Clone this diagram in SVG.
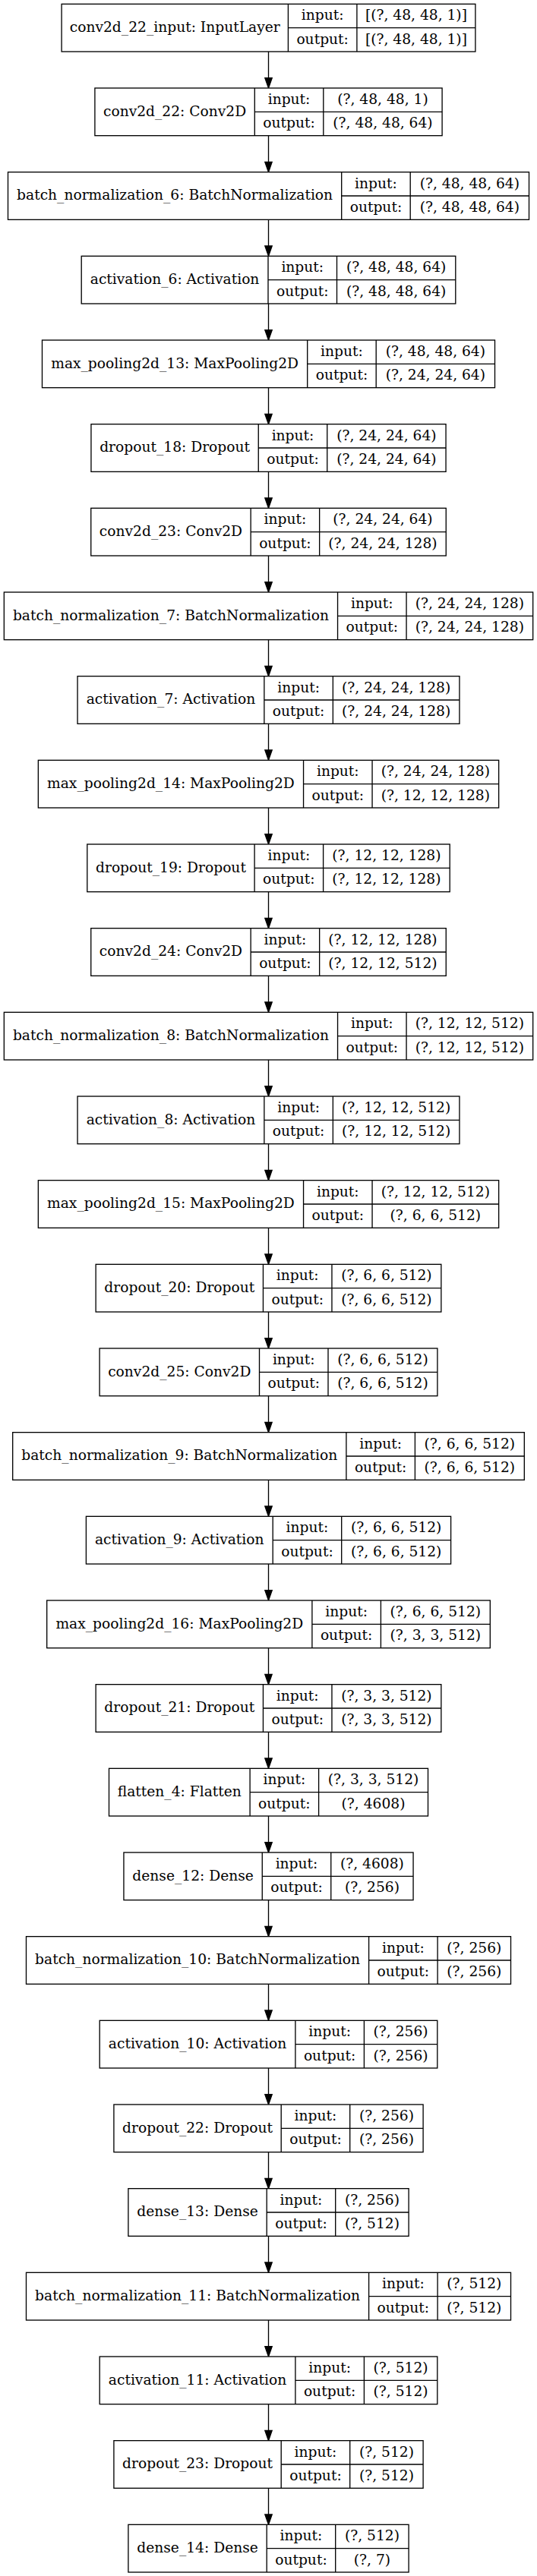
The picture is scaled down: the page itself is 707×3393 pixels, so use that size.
<svg xmlns="http://www.w3.org/2000/svg" width="707" height="3393" viewBox="0 0 707 3393">
<style>
.b{fill:#fff;stroke:#000;stroke-width:1.33}
.d{fill:none;stroke:#000;stroke-width:1.33}
text{font-family:"DejaVu Serif","Liberation Serif",serif;font-size:18.67px;fill:#000;text-anchor:middle}
.e{fill:none;stroke:#000;stroke-width:1.33;marker-end:url(#ah)}
</style>
<defs>
<marker id="ah" markerUnits="userSpaceOnUse" markerWidth="16" markerHeight="12" viewBox="0 -6 16 12" refX="0" refY="0" orient="auto" overflow="visible"><path d="M0,-4.67L13.33,0L0,4.67z" fill="#000" stroke="#000" stroke-width="1.33"/></marker>
</defs>
<rect width="707" height="3393" fill="#fff"/>
<g id="edges">
<path class="e" d="M353.5,68V102.67"/>
<path class="e" d="M353.5,178.67V213.33"/>
<path class="e" d="M353.5,289.33V324"/>
<path class="e" d="M353.5,400V434.67"/>
<path class="e" d="M353.5,510.67V545.33"/>
<path class="e" d="M353.5,621.33V656"/>
<path class="e" d="M353.5,732V766.67"/>
<path class="e" d="M353.5,842.67V877.33"/>
<path class="e" d="M353.5,953.33V988"/>
<path class="e" d="M353.5,1064V1098.67"/>
<path class="e" d="M353.5,1174.67V1209.33"/>
<path class="e" d="M353.5,1285.33V1320"/>
<path class="e" d="M353.5,1396V1430.67"/>
<path class="e" d="M353.5,1506.67V1541.33"/>
<path class="e" d="M353.5,1617.33V1652"/>
<path class="e" d="M353.5,1728V1762.67"/>
<path class="e" d="M353.5,1838.67V1873.33"/>
<path class="e" d="M353.5,1949.33V1984"/>
<path class="e" d="M353.5,2060V2094.67"/>
<path class="e" d="M353.5,2170.67V2205.33"/>
<path class="e" d="M353.5,2281.33V2316"/>
<path class="e" d="M353.5,2392V2426.67"/>
<path class="e" d="M353.5,2502.67V2537.33"/>
<path class="e" d="M353.5,2613.33V2648"/>
<path class="e" d="M353.5,2724V2758.67"/>
<path class="e" d="M353.5,2834.67V2869.33"/>
<path class="e" d="M353.5,2945.33V2980"/>
<path class="e" d="M353.5,3056V3090.67"/>
<path class="e" d="M353.5,3166.67V3201.33"/>
<path class="e" d="M353.5,3277.33V3312"/>
</g>
<g id="n0" transform="translate(0,5.33)"><rect class="b" x="81.1" y="0" width="544.8" height="62.67"/><path class="d" d="M379.4,0V62.67M469.9,0V62.67M379.4,31.33H625.9"/><text x="230.25" y="36.6">conv2d_22_input: InputLayer</text><text x="424.65" y="21">input:</text><text x="424.65" y="52.3">output:</text><text x="547.9" y="21">[(?, 48, 48, 1)]</text><text x="547.9" y="52.3">[(?, 48, 48, 1)]</text></g>
<g id="n1" transform="translate(0,116)"><rect class="b" x="124.9" y="0" width="457.2" height="62.67"/><path class="d" d="M335.3,0V62.67M425.8,0V62.67M335.3,31.33H582.1"/><text x="230.1" y="36.6">conv2d_22: Conv2D</text><text x="380.55" y="21">input:</text><text x="380.55" y="52.3">output:</text><text x="503.95" y="21">(?, 48, 48, 1)</text><text x="503.95" y="52.3">(?, 48, 48, 64)</text></g>
<g id="n2" transform="translate(0,226.67)"><rect class="b" x="10.5" y="0" width="686" height="62.67"/><path class="d" d="M449.7,0V62.67M540.2,0V62.67M449.7,31.33H696.5"/><text x="230.1" y="36.6">batch_normalization_6: BatchNormalization</text><text x="494.95" y="21">input:</text><text x="494.95" y="52.3">output:</text><text x="618.35" y="21">(?, 48, 48, 64)</text><text x="618.35" y="52.3">(?, 48, 48, 64)</text></g>
<g id="n3" transform="translate(0,337.33)"><rect class="b" x="107.2" y="0" width="492.6" height="62.67"/><path class="d" d="M353,0V62.67M443.5,0V62.67M353,31.33H599.8"/><text x="230.1" y="36.6">activation_6: Activation</text><text x="398.25" y="21">input:</text><text x="398.25" y="52.3">output:</text><text x="521.65" y="21">(?, 48, 48, 64)</text><text x="521.65" y="52.3">(?, 48, 48, 64)</text></g>
<g id="n4" transform="translate(0,448)"><rect class="b" x="55.5" y="0" width="596" height="62.67"/><path class="d" d="M404.7,0V62.67M495.2,0V62.67M404.7,31.33H651.5"/><text x="230.1" y="36.6">max_pooling2d_13: MaxPooling2D</text><text x="449.95" y="21">input:</text><text x="449.95" y="52.3">output:</text><text x="573.35" y="21">(?, 48, 48, 64)</text><text x="573.35" y="52.3">(?, 24, 24, 64)</text></g>
<g id="n5" transform="translate(0,558.67)"><rect class="b" x="119.95" y="0" width="467.1" height="62.67"/><path class="d" d="M340.25,0V62.67M430.75,0V62.67M340.25,31.33H587.05"/><text x="230.1" y="36.6">dropout_18: Dropout</text><text x="385.5" y="21">input:</text><text x="385.5" y="52.3">output:</text><text x="508.9" y="21">(?, 24, 24, 64)</text><text x="508.9" y="52.3">(?, 24, 24, 64)</text></g>
<g id="n6" transform="translate(0,669.33)"><rect class="b" x="119.75" y="0" width="467.5" height="62.67"/><path class="d" d="M330.15,0V62.67M420.65,0V62.67M330.15,31.33H587.25"/><text x="224.95" y="36.6">conv2d_23: Conv2D</text><text x="375.4" y="21">input:</text><text x="375.4" y="52.3">output:</text><text x="503.95" y="21">(?, 24, 24, 64)</text><text x="503.95" y="52.3">(?, 24, 24, 128)</text></g>
<g id="n7" transform="translate(0,780)"><rect class="b" x="5.35" y="0" width="696.3" height="62.67"/><path class="d" d="M444.55,0V62.67M535.05,0V62.67M444.55,31.33H701.65"/><text x="224.95" y="36.6">batch_normalization_7: BatchNormalization</text><text x="489.8" y="21">input:</text><text x="489.8" y="52.3">output:</text><text x="618.35" y="21">(?, 24, 24, 128)</text><text x="618.35" y="52.3">(?, 24, 24, 128)</text></g>
<g id="n8" transform="translate(0,890.67)"><rect class="b" x="102.05" y="0" width="502.9" height="62.67"/><path class="d" d="M347.85,0V62.67M438.35,0V62.67M347.85,31.33H604.95"/><text x="224.95" y="36.6">activation_7: Activation</text><text x="393.1" y="21">input:</text><text x="393.1" y="52.3">output:</text><text x="521.65" y="21">(?, 24, 24, 128)</text><text x="521.65" y="52.3">(?, 24, 24, 128)</text></g>
<g id="n9" transform="translate(0,1001.33)"><rect class="b" x="50.35" y="0" width="606.3" height="62.67"/><path class="d" d="M399.55,0V62.67M490.05,0V62.67M399.55,31.33H656.65"/><text x="224.95" y="36.6">max_pooling2d_14: MaxPooling2D</text><text x="444.8" y="21">input:</text><text x="444.8" y="52.3">output:</text><text x="573.35" y="21">(?, 24, 24, 128)</text><text x="573.35" y="52.3">(?, 12, 12, 128)</text></g>
<g id="n10" transform="translate(0,1112)"><rect class="b" x="114.8" y="0" width="477.4" height="62.67"/><path class="d" d="M335.1,0V62.67M425.6,0V62.67M335.1,31.33H592.2"/><text x="224.95" y="36.6">dropout_19: Dropout</text><text x="380.35" y="21">input:</text><text x="380.35" y="52.3">output:</text><text x="508.9" y="21">(?, 12, 12, 128)</text><text x="508.9" y="52.3">(?, 12, 12, 128)</text></g>
<g id="n11" transform="translate(0,1222.67)"><rect class="b" x="119.75" y="0" width="467.5" height="62.67"/><path class="d" d="M330.15,0V62.67M420.65,0V62.67M330.15,31.33H587.25"/><text x="224.95" y="36.6">conv2d_24: Conv2D</text><text x="375.4" y="21">input:</text><text x="375.4" y="52.3">output:</text><text x="503.95" y="21">(?, 12, 12, 128)</text><text x="503.95" y="52.3">(?, 12, 12, 512)</text></g>
<g id="n12" transform="translate(0,1333.33)"><rect class="b" x="5.35" y="0" width="696.3" height="62.67"/><path class="d" d="M444.55,0V62.67M535.05,0V62.67M444.55,31.33H701.65"/><text x="224.95" y="36.6">batch_normalization_8: BatchNormalization</text><text x="489.8" y="21">input:</text><text x="489.8" y="52.3">output:</text><text x="618.35" y="21">(?, 12, 12, 512)</text><text x="618.35" y="52.3">(?, 12, 12, 512)</text></g>
<g id="n13" transform="translate(0,1444)"><rect class="b" x="102.05" y="0" width="502.9" height="62.67"/><path class="d" d="M347.85,0V62.67M438.35,0V62.67M347.85,31.33H604.95"/><text x="224.95" y="36.6">activation_8: Activation</text><text x="393.1" y="21">input:</text><text x="393.1" y="52.3">output:</text><text x="521.65" y="21">(?, 12, 12, 512)</text><text x="521.65" y="52.3">(?, 12, 12, 512)</text></g>
<g id="n14" transform="translate(0,1554.67)"><rect class="b" x="50.35" y="0" width="606.3" height="62.67"/><path class="d" d="M399.55,0V62.67M490.05,0V62.67M399.55,31.33H656.65"/><text x="224.95" y="36.6">max_pooling2d_15: MaxPooling2D</text><text x="444.8" y="21">input:</text><text x="444.8" y="52.3">output:</text><text x="573.35" y="21">(?, 12, 12, 512)</text><text x="573.35" y="52.3">(?, 6, 6, 512)</text></g>
<g id="n15" transform="translate(0,1665.33)"><rect class="b" x="126.15" y="0" width="454.7" height="62.67"/><path class="d" d="M346.45,0V62.67M436.95,0V62.67M346.45,31.33H580.85"/><text x="236.3" y="36.6">dropout_20: Dropout</text><text x="391.7" y="21">input:</text><text x="391.7" y="52.3">output:</text><text x="508.9" y="21">(?, 6, 6, 512)</text><text x="508.9" y="52.3">(?, 6, 6, 512)</text></g>
<g id="n16" transform="translate(0,1776)"><rect class="b" x="131.1" y="0" width="444.8" height="62.67"/><path class="d" d="M341.5,0V62.67M432,0V62.67M341.5,31.33H575.9"/><text x="236.3" y="36.6">conv2d_25: Conv2D</text><text x="386.75" y="21">input:</text><text x="386.75" y="52.3">output:</text><text x="503.95" y="21">(?, 6, 6, 512)</text><text x="503.95" y="52.3">(?, 6, 6, 512)</text></g>
<g id="n17" transform="translate(0,1886.67)"><rect class="b" x="16.7" y="0" width="673.6" height="62.67"/><path class="d" d="M455.9,0V62.67M546.4,0V62.67M455.9,31.33H690.3"/><text x="236.3" y="36.6">batch_normalization_9: BatchNormalization</text><text x="501.15" y="21">input:</text><text x="501.15" y="52.3">output:</text><text x="618.35" y="21">(?, 6, 6, 512)</text><text x="618.35" y="52.3">(?, 6, 6, 512)</text></g>
<g id="n18" transform="translate(0,1997.33)"><rect class="b" x="113.4" y="0" width="480.2" height="62.67"/><path class="d" d="M359.2,0V62.67M449.7,0V62.67M359.2,31.33H593.6"/><text x="236.3" y="36.6">activation_9: Activation</text><text x="404.45" y="21">input:</text><text x="404.45" y="52.3">output:</text><text x="521.65" y="21">(?, 6, 6, 512)</text><text x="521.65" y="52.3">(?, 6, 6, 512)</text></g>
<g id="n19" transform="translate(0,2108)"><rect class="b" x="61.7" y="0" width="583.6" height="62.67"/><path class="d" d="M410.9,0V62.67M501.4,0V62.67M410.9,31.33H645.3"/><text x="236.3" y="36.6">max_pooling2d_16: MaxPooling2D</text><text x="456.15" y="21">input:</text><text x="456.15" y="52.3">output:</text><text x="573.35" y="21">(?, 6, 6, 512)</text><text x="573.35" y="52.3">(?, 3, 3, 512)</text></g>
<g id="n20" transform="translate(0,2218.67)"><rect class="b" x="126.15" y="0" width="454.7" height="62.67"/><path class="d" d="M346.45,0V62.67M436.95,0V62.67M346.45,31.33H580.85"/><text x="236.3" y="36.6">dropout_21: Dropout</text><text x="391.7" y="21">input:</text><text x="391.7" y="52.3">output:</text><text x="508.9" y="21">(?, 3, 3, 512)</text><text x="508.9" y="52.3">(?, 3, 3, 512)</text></g>
<g id="n21" transform="translate(0,2329.33)"><rect class="b" x="143.5" y="0" width="420" height="62.67"/><path class="d" d="M329.1,0V62.67M419.6,0V62.67M329.1,31.33H563.5"/><text x="236.3" y="36.6">flatten_4: Flatten</text><text x="374.35" y="21">input:</text><text x="374.35" y="52.3">output:</text><text x="491.55" y="21">(?, 3, 3, 512)</text><text x="491.55" y="52.3">(?, 4608)</text></g>
<g id="n22" transform="translate(0,2440)"><rect class="b" x="162.95" y="0" width="381.1" height="62.67"/><path class="d" d="M345.25,0V62.67M435.75,0V62.67M345.25,31.33H544.05"/><text x="254.1" y="36.6">dense_12: Dense</text><text x="390.5" y="21">input:</text><text x="390.5" y="52.3">output:</text><text x="489.9" y="21">(?, 4608)</text><text x="489.9" y="52.3">(?, 256)</text></g>
<g id="n23" transform="translate(0,2550.67)"><rect class="b" x="34.5" y="0" width="638" height="62.67"/><path class="d" d="M485.6,0V62.67M576.1,0V62.67M485.6,31.33H672.5"/><text x="260.05" y="36.6">batch_normalization_10: BatchNormalization</text><text x="530.85" y="21">input:</text><text x="530.85" y="52.3">output:</text><text x="624.3" y="21">(?, 256)</text><text x="624.3" y="52.3">(?, 256)</text></g>
<g id="n24" transform="translate(0,2661.33)"><rect class="b" x="131.2" y="0" width="444.6" height="62.67"/><path class="d" d="M388.9,0V62.67M479.4,0V62.67M388.9,31.33H575.8"/><text x="260.05" y="36.6">activation_10: Activation</text><text x="434.15" y="21">input:</text><text x="434.15" y="52.3">output:</text><text x="527.6" y="21">(?, 256)</text><text x="527.6" y="52.3">(?, 256)</text></g>
<g id="n25" transform="translate(0,2772)"><rect class="b" x="149.9" y="0" width="407.2" height="62.67"/><path class="d" d="M370.2,0V62.67M460.7,0V62.67M370.2,31.33H557.1"/><text x="260.05" y="36.6">dropout_22: Dropout</text><text x="415.45" y="21">input:</text><text x="415.45" y="52.3">output:</text><text x="508.9" y="21">(?, 256)</text><text x="508.9" y="52.3">(?, 256)</text></g>
<g id="n26" transform="translate(0,2882.67)"><rect class="b" x="168.9" y="0" width="369.2" height="62.67"/><path class="d" d="M351.2,0V62.67M441.7,0V62.67M351.2,31.33H538.1"/><text x="260.05" y="36.6">dense_13: Dense</text><text x="396.45" y="21">input:</text><text x="396.45" y="52.3">output:</text><text x="489.9" y="21">(?, 256)</text><text x="489.9" y="52.3">(?, 512)</text></g>
<g id="n27" transform="translate(0,2993.33)"><rect class="b" x="34.5" y="0" width="638" height="62.67"/><path class="d" d="M485.6,0V62.67M576.1,0V62.67M485.6,31.33H672.5"/><text x="260.05" y="36.6">batch_normalization_11: BatchNormalization</text><text x="530.85" y="21">input:</text><text x="530.85" y="52.3">output:</text><text x="624.3" y="21">(?, 512)</text><text x="624.3" y="52.3">(?, 512)</text></g>
<g id="n28" transform="translate(0,3104)"><rect class="b" x="131.2" y="0" width="444.6" height="62.67"/><path class="d" d="M388.9,0V62.67M479.4,0V62.67M388.9,31.33H575.8"/><text x="260.05" y="36.6">activation_11: Activation</text><text x="434.15" y="21">input:</text><text x="434.15" y="52.3">output:</text><text x="527.6" y="21">(?, 512)</text><text x="527.6" y="52.3">(?, 512)</text></g>
<g id="n29" transform="translate(0,3214.67)"><rect class="b" x="149.9" y="0" width="407.2" height="62.67"/><path class="d" d="M370.2,0V62.67M460.7,0V62.67M370.2,31.33H557.1"/><text x="260.05" y="36.6">dropout_23: Dropout</text><text x="415.45" y="21">input:</text><text x="415.45" y="52.3">output:</text><text x="508.9" y="21">(?, 512)</text><text x="508.9" y="52.3">(?, 512)</text></g>
<g id="n30" transform="translate(0,3325.33)"><rect class="b" x="168.9" y="0" width="369.2" height="62.67"/><path class="d" d="M351.2,0V62.67M441.7,0V62.67M351.2,31.33H538.1"/><text x="260.05" y="36.6">dense_14: Dense</text><text x="396.45" y="21">input:</text><text x="396.45" y="52.3">output:</text><text x="489.9" y="21">(?, 512)</text><text x="489.9" y="52.3">(?, 7)</text></g>
</svg>
